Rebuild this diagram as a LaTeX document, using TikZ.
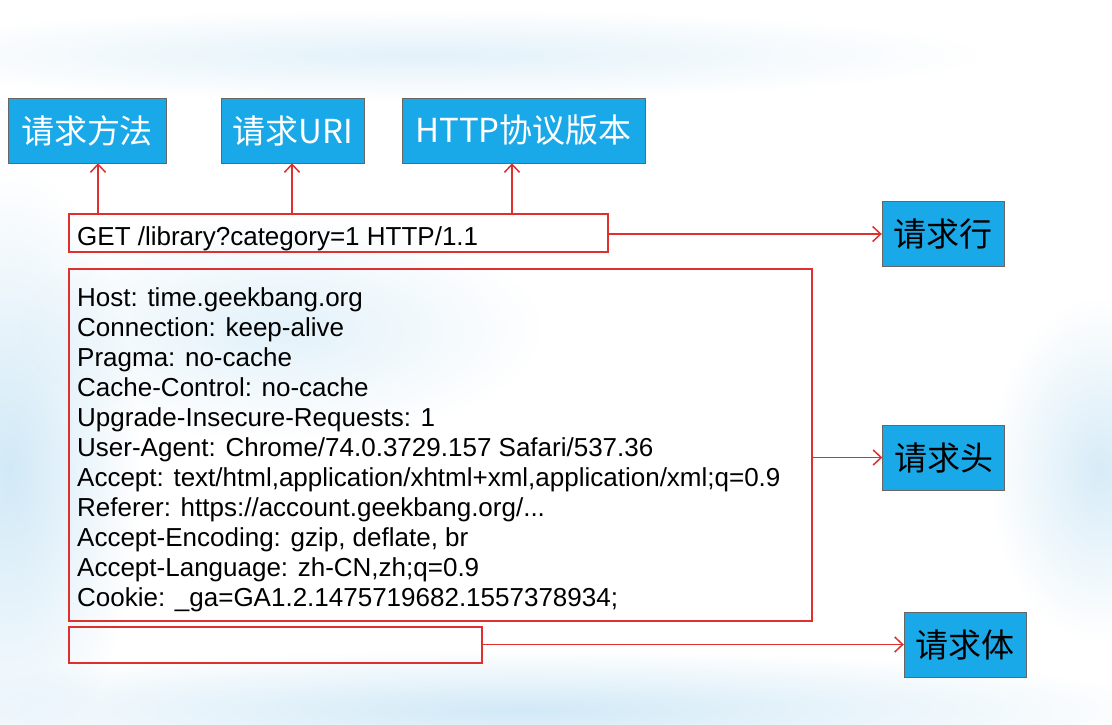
\documentclass[tikz,border=0pt]{standalone}
\usepackage{fontspec}
\setmainfont{Liberation Sans}
\newfontfamily\cjk{Noto Sans CJK SC}
\usetikzlibrary{arrows.meta, positioning, fadings}

\definecolor{boxblue}{HTML}{1AA9E8}
\definecolor{linered}{HTML}{E0302E}
\definecolor{washblue}{HTML}{C6E4F5}

\tikzfading[name = soft, inner color = transparent!0, outer color = transparent!100]

\tikzstyle{part} = [
  rectangle, draw = black!60, fill = boxblue,
  minimum height = 65, inner sep = 0, text centered,
  font = \cjk\fontsize{33}{33}\selectfont
]
\tikzstyle{top} = [part, text = white]
\tikzstyle{side} = [part, text = black, minimum width = 122]
\tikzstyle{frame} = [rectangle, draw = linered, line width = 1.8, inner sep = 0,
  anchor = north west]
\tikzstyle{msg} = [anchor = base west, inner sep = 0,
  font = \fontsize{26}{30}\selectfont]
\tikzstyle{link} = [draw = linered, line width = 1.5,
  -{Straight Barb[length = 8, width = 15]}]

\begin{document}
\begin{tikzpicture}[x = 1pt, y = -1pt, node distance = 0]
      \useasboundingbox (0, 0) rectangle (1112, 724);
      % wash
      \fill [white] (0, 0) rectangle (1112, 724);
      \fill [washblue, opacity = 0.8, path fading = soft] (10, 470) ellipse (130 and 300);
      \fill [washblue, opacity = 0.5, path fading = soft] (420, 55) ellipse (560 and 45);
      \fill [washblue, opacity = 0.8, path fading = soft] (520, 710) ellipse (650 and 60);
      \fill [washblue, opacity = 0.7, path fading = soft] (1100, 470) ellipse (110 and 170);
      \fill [washblue, opacity = 0.5, path fading = soft] (280, 330) ellipse (260 and 110);
      % parts of the request line
      \node [top, minimum width = 158] (method) at (87, 130.5) {请求方法};
      \node [top, minimum width = 143] (uri) at (292.5, 130.5) {请求URI};
      \node [top, minimum width = 243] (version) at (523.5, 130.5) {HTTP协议版本};
      % request line
      \node [frame, minimum width = 539, minimum height = 38] (reqline) at (68, 213) {};
      \node [msg] (get) at (77, 245) {GET /library?category=1 HTTP/1.1};
      % headers
      \node [frame, minimum width = 743, minimum height = 352] (header) at (68, 268) {};
      \foreach \txt [count = \i] in {
        {Host: time.geekbang.org},
        {Connection: keep-alive},
        {Pragma: no-cache},
        {Cache-Control: no-cache},
        {Upgrade-Insecure-Requests: 1},
        {User-Agent: Chrome/74.0.3729.157 Safari/537.36},
        {Accept: text/html,application/xhtml+xml,application/xml;q=0.9},
        {Referer: https://account.geekbang.org/{.}{.}{.}},
        {Accept-Encoding: gzip, deflate, br},
        {Accept-Language: zh-CN,zh;q=0.9},
        {Cookie: \_ga=GA1.2.1475719682.1557378934;}
      }
        \node [msg] (hdr-\i) at (77, 276 + 30 * \i) {\txt};
      % body
      \node [frame, minimum width = 413, minimum height = 36] (body) at (68, 626) {};
      % names
      \node [side] (row) at (943, 234) {请求行};
      \node [side] (head) at (943.5, 457.5) {请求头};
      \node [side] (load) at (965, 644.5) {请求体};

      \coordinate (m) at (98, 213);
      \coordinate (u) at (292, 213);
      \coordinate (v) at (512, 213);
      \draw [link] (m) -- (m |- method.south);
      \draw [link] (u) -- (u |- uri.south);
      \draw [link] (v) -- (v |- version.south);
      \draw [link] (row.west -| reqline.east) -- (row.west);
      \draw [link] (head.west -| header.east) -- (head.west);
      \draw [link] (load.west -| body.east) -- (load.west);
    \end{tikzpicture}
\end{document}
